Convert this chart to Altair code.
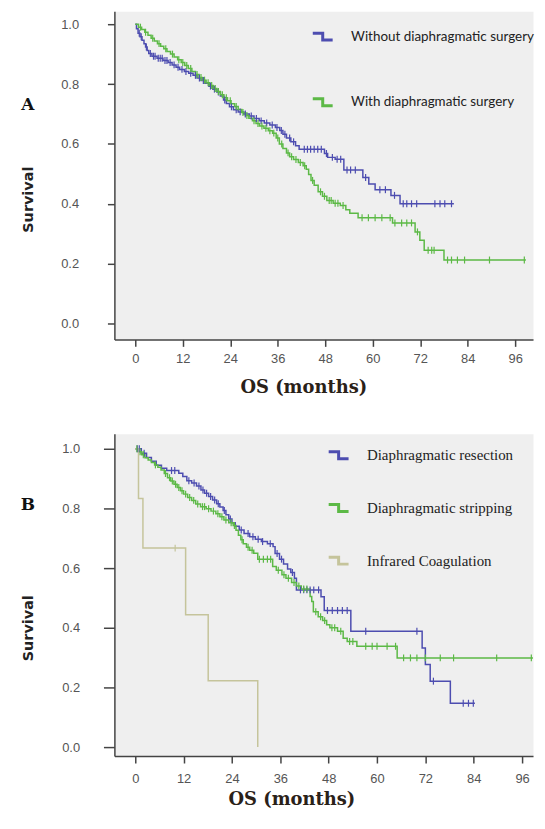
import altair as alt
import pandas as pd

# ---------------- Panel A data ----------------
a_names = ["Without diaphragmatic surgery", "With diaphragmatic surgery"]
a_colors = ["#4d4db0", "#5cb946"]

a_wo_t = [0, 0.3, 0.7, 1.2, 1.7, 2.2, 2.6, 3.0, 3.4, 4.2, 5.5, 7.0, 8.3, 9.3, 10.3, 11.2, 12.4, 13.5, 14.6, 15.6,
          16.6, 17.6, 18.6, 19.6, 20.6, 21.5, 22.3, 23.0, 23.8, 24.8, 26.0, 27.4, 28.8, 30.0, 31.3, 32.6, 34.0, 35.4,
          36.5, 37.3, 38.2, 39.3, 40.5, 41.4, 47.8, 48.6, 50.5, 52.7, 57.5, 59.0, 60.6, 64.6, 66.9, 80.5]
a_wo_s = [1.0, 0.985, 0.97, 0.958, 0.946, 0.935, 0.924, 0.912, 0.902, 0.893, 0.886, 0.879, 0.872, 0.864, 0.856,
          0.849, 0.842, 0.836, 0.829, 0.820, 0.812, 0.803, 0.793, 0.783, 0.773, 0.760, 0.747, 0.735, 0.724, 0.714,
          0.707, 0.700, 0.693, 0.685, 0.677, 0.670, 0.663, 0.655, 0.645, 0.632, 0.620, 0.607, 0.594, 0.582, 0.568,
          0.555, 0.549, 0.513, 0.488, 0.466, 0.447, 0.428, 0.400, 0.400]
a_wo_cens = [1.0, 1.5, 2.8, 3.8, 4.6, 5.0, 5.8, 6.3, 6.8, 7.5, 8.0, 8.8, 9.8, 10.8, 11.8, 12.8, 14.0, 15.2, 16.2,
             17.2, 19.0, 20.0, 21.0, 22.6, 24.3, 25.5, 26.5, 27.8, 29.3, 30.6, 31.8, 33.2, 34.6, 35.8, 36.9, 37.8,
             39.0, 40.0, 42.7, 43.5, 44.3, 45.2, 46.1, 47.0, 48.3, 49.8, 51.0, 51.9, 53.5, 54.4, 55.6, 58.2, 61.8,
             63.2, 65.5, 67.7, 68.6, 69.8, 71.1, 75.7, 77.0, 78.2, 79.9]

a_w_t = [0, 0.8, 1.6, 2.4, 3.2, 4.0, 4.8, 5.6, 6.4, 7.2, 8.0, 8.9, 9.8, 10.7, 11.6, 12.5, 13.4, 14.3, 15.2, 16.1,
         17.0, 17.9, 18.8, 19.7, 20.6, 21.5, 22.4, 23.3, 24.2, 25.1, 26.0, 26.9, 27.8, 28.7, 29.6, 30.5, 31.4, 32.5,
         33.6, 34.7, 35.6, 36.4, 37.3, 38.2, 39.0, 40.0, 41.2, 42.4, 43.2, 43.8, 44.4, 45.2, 46.2, 47.3, 48.4, 50.0,
         51.8, 53.2, 54.2, 56.3, 65.0, 70.7, 71.9, 73.0, 78.0, 98.7]
a_w_s = [1.0, 0.99, 0.982, 0.973, 0.963, 0.953, 0.944, 0.935, 0.926, 0.918, 0.909, 0.900, 0.890, 0.881, 0.872,
         0.862, 0.852, 0.842, 0.832, 0.822, 0.813, 0.804, 0.795, 0.785, 0.775, 0.764, 0.754, 0.744, 0.734, 0.725,
         0.715, 0.705, 0.695, 0.686, 0.677, 0.668, 0.660, 0.652, 0.644, 0.636, 0.620, 0.600, 0.585, 0.570, 0.557,
         0.548, 0.538, 0.527, 0.515, 0.498, 0.478, 0.462, 0.440, 0.425, 0.411, 0.402, 0.394, 0.380, 0.368, 0.353,
         0.336, 0.306, 0.278, 0.245, 0.212, 0.212]
a_w_cens = [1.3, 2.6, 4.4, 6.0, 7.7, 9.4, 11.0, 12.0, 13.0, 14.0, 15.6, 16.6, 17.5, 18.4, 19.3, 20.2, 21.0, 22.0,
            23.0, 24.0, 25.5, 27.2, 28.2, 30.0, 31.0, 32.0, 33.0, 34.0, 35.0, 36.0, 37.0, 38.6, 39.5, 40.6, 41.7,
            42.8, 44.8, 46.8, 47.8, 49.0, 49.5, 50.5, 51.2, 52.5, 57.3, 58.9, 60.6, 62.3, 64.4, 65.6, 67.3, 68.6,
            69.8, 71.3, 74.0, 74.9, 75.5, 78.9, 79.9, 81.4, 83.2, 89.5, 98.3]

# ---------------- Panel B data ----------------
b_names = ["Diaphragmatic resection", "Diaphragmatic stripping", "Infrared Coagulation"]
b_colors = ["#4d4db0", "#5cb946", "#c5c49b"]

b_res_t = [0, 1.5, 2.8, 4.0, 5.2, 6.5, 7.8, 10.8, 11.8, 12.8, 14.0, 15.2, 16.3, 17.2, 18.2, 19.2, 20.2, 21.0, 21.8,
           22.5, 23.2, 24.0, 24.8, 25.8, 27.0, 28.4, 29.8, 31.3, 32.8, 34.2, 34.7, 35.8, 36.8, 37.8, 38.6, 39.5,
           40.0, 46.1, 46.9, 53.5, 71.2, 72.0, 73.2, 78.2, 84.3]
b_res_s = [1.0, 0.985, 0.971, 0.958, 0.945, 0.935, 0.927, 0.918, 0.907, 0.893, 0.885, 0.875, 0.862, 0.851, 0.840,
           0.828, 0.816, 0.805, 0.793, 0.779, 0.765, 0.752, 0.740, 0.728, 0.716, 0.705, 0.697, 0.689, 0.682, 0.672,
           0.649, 0.630, 0.614, 0.597, 0.585, 0.566, 0.527, 0.504, 0.458, 0.388, 0.332, 0.277, 0.221, 0.147, 0.147]
b_res_cens = [0.5, 1.0, 2.2, 9.0, 9.8, 13.3, 14.6, 15.8, 16.8, 17.7, 18.7, 19.7, 20.6, 22.1, 23.6, 26.3, 28.0, 29.2,
              30.5, 31.6, 33.5, 35.2, 36.3, 39.0, 41.0, 41.8, 42.6, 43.4, 44.3, 45.5, 47.7, 48.9, 50.2, 51.4, 52.6,
              57.2, 69.9, 74.0, 81.4, 82.7, 83.9]

b_str_t = [0, 0.8, 1.6, 2.4, 3.2, 4.0, 4.8, 5.6, 6.4, 7.2, 8.0, 8.8, 9.6, 10.4, 11.2, 12.0, 13.0, 14.0, 15.0, 16.2,
           17.6, 18.8, 20.0, 21.0, 22.0, 23.2, 24.3, 25.0, 25.6, 26.2, 26.8, 27.6, 28.4, 29.4, 30.4, 34.1, 35.0,
           36.4, 37.4, 38.8, 40.0, 41.2, 43.4, 43.8, 44.2, 45.4, 46.5, 47.5, 48.3, 50.2, 51.6, 52.6, 55.0, 65.0, 98.7]
b_str_s = [1.0, 0.990, 0.980, 0.970, 0.962, 0.954, 0.946, 0.938, 0.929, 0.917, 0.903, 0.892, 0.881, 0.870, 0.859,
           0.848, 0.837, 0.827, 0.815, 0.806, 0.799, 0.791, 0.782, 0.772, 0.761, 0.752, 0.743, 0.727, 0.710, 0.695,
           0.682, 0.670, 0.660, 0.650, 0.630, 0.605, 0.593, 0.578, 0.566, 0.552, 0.540, 0.530, 0.505, 0.488, 0.454,
           0.437, 0.424, 0.410, 0.400, 0.388, 0.365, 0.354, 0.338, 0.299, 0.299]
b_str_cens = [0.4, 1.2, 2.0, 5.0, 7.5, 8.5, 9.2, 10.0, 10.8, 11.6, 12.5, 13.5, 14.5, 15.5, 16.7, 17.2, 18.2, 19.4,
              20.5, 21.5, 22.5, 23.8, 24.6, 26.5, 28.0, 29.0, 30.8, 31.8, 32.8, 33.6, 35.5, 36.9, 38.0, 39.4, 40.6,
              41.8, 42.6, 44.8, 46.0, 47.0, 48.8, 49.5, 51.0, 53.2, 54.0, 57.2, 58.8, 60.0, 62.5, 64.6, 66.6, 68.3,
              69.9, 72.0, 75.7, 79.0, 89.7, 98.3]

b_ir_t = [0, 0.8, 1.9, 12.5, 18.1, 30.4]
b_ir_s = [1.0, 0.833, 0.667, 0.444, 0.222, 0.0]
b_ir_cens = [9.9]

y_ticks = [0.0, 0.2, 0.4, 0.6, 0.8, 1.0]
x_ticks = [0, 12, 24, 36, 48, 60, 72, 84, 96]


def surv_at(ts, ss, t):
    val = ss[0]
    for ti, si in zip(ts, ss):
        if ti <= t:
            val = si
    return val


def build(names, curves):
    rows, cens = [], []
    for name, (ts, ss, cs) in zip(names, curves):
        for ti, si in zip(ts, ss):
            rows.append({"t": ti, "s": si, "group": name})
        for c in cs:
            cens.append({"t": c, "s": surv_at(ts, ss, c), "group": name})
    return pd.DataFrame(rows), pd.DataFrame(cens)


STEP_ICON = "M-1,-0.35H0V0.35H1"
TICK_SHAPE = "M0,-1L0,1"


def panel(names, colors, curves, xdom, ydom, w, h, letter, letter_y, ytitle_y, xtitle_x, xtitle_y,
          x_lab_pad, y_lab_pad, y_tick, legend_kw):
    df_l, df_c = build(names, curves)
    xs = alt.Scale(domain=xdom, nice=False, zero=False)
    ys = alt.Scale(domain=ydom, nice=False, zero=False)
    xaxis = alt.Axis(values=x_ticks, title="OS (months)", grid=False,
                     titleFont="DejaVu Serif", titleFontWeight="bold", titleFontSize=18, titleColor="#2a2118",
                     titleX=xtitle_x, titleY=xtitle_y, titleBaseline="middle", titleAlign="center",
                     labelFont="Liberation Sans", labelFontSize=13, labelColor="#555555", labelPadding=x_lab_pad,
                     tickSize=7, tickColor="#444444", tickWidth=1.5, domainColor="#444444", domainWidth=1.5)
    yaxis = alt.Axis(values=y_ticks, format=".1f", title="Survival", grid=False,
                     titleFont="DejaVu Sans", titleFontWeight="bold", titleFontSize=14.5, titleColor="#222222",
                     titleAngle=270, titleX=-86, titleY=ytitle_y, titleBaseline="middle", titleAlign="center",
                     labelFont="Liberation Sans", labelFontSize=13, labelColor="#555555", labelPadding=y_lab_pad,
                     tickSize=y_tick, tickColor="#444444", tickWidth=1.5, domainColor="#444444", domainWidth=1.5)
    color_scale = alt.Scale(domain=names, range=colors)
    lines = alt.Chart(df_l).mark_line(interpolate="step-after", strokeWidth=1.5).encode(
        x=alt.X("t:Q", scale=xs, axis=xaxis),
        y=alt.Y("s:Q", scale=ys, axis=yaxis),
        color=alt.Color("group:N", scale=color_scale,
                        legend=alt.Legend(orient="none", title=None, direction="vertical",
                                          symbolType=STEP_ICON, symbolSize=400, symbolStrokeWidth=3,
                                          symbolFillColor="transparent", labelLimit=250, padding=0,
                                          **legend_kw)),
    )
    ticks = alt.Chart(df_c).mark_point(shape=TICK_SHAPE, size=49, filled=False, strokeWidth=1.2,
                                       opacity=1).encode(
        x=alt.X("t:Q", scale=xs),
        y=alt.Y("s:Q", scale=ys),
        color=alt.Color("group:N", scale=color_scale, legend=None),
    )
    lab = alt.Chart(pd.DataFrame({"lab": [letter]})).mark_text(
        font="DejaVu Serif", fontWeight="bold", fontSize=17, color="#111111", baseline="middle", align="center"
    ).encode(x=alt.value(-87), y=alt.value(letter_y), text="lab:N")
    return alt.layer(lines, ticks, lab).properties(width=w, height=h)


chart_a = panel(a_names, a_colors,
                [(a_wo_t, a_wo_s, a_wo_cens), (a_w_t, a_w_s, a_w_cens)],
                [-5.28, 100.5], [-0.0532, 1.0432], 421, 330, "A", 94, 189, 190, 48, 6, 29, 7,
                dict(legendX=198, legendY=14, rowPadding=45, labelOffset=17,
                     labelFont="Lato", labelFontSize=13.5, labelColor="#222222"))

chart_b = panel(b_names, b_colors,
                [(b_res_t, b_res_s, b_res_cens), (b_str_t, b_str_s, b_str_cens), (b_ir_t, b_ir_s, b_ir_cens)],
                [-5.18, 98.72], [-0.03, 1.05], 421, 324, "B", 72, 195, 178, 44, 10, 24, 11,
                dict(legendX=214, legendY=10, rowPadding=32, labelOffset=17,
                     labelFont="Liberation Serif", labelFontSize=15, labelColor="#222222"))

chart = alt.vconcat(chart_a, chart_b, spacing=95, bounds="flush").resolve_scale(
    color="independent", x="independent", y="independent"
).resolve_legend(color="independent").properties(
    padding={"left": 12, "top": 0, "right": 0, "bottom": 0}, background="white"
).configure_view(fill="#efefef", stroke="transparent")

chart.save("out.html", embed_options={"renderer": "svg", "actions": False})
